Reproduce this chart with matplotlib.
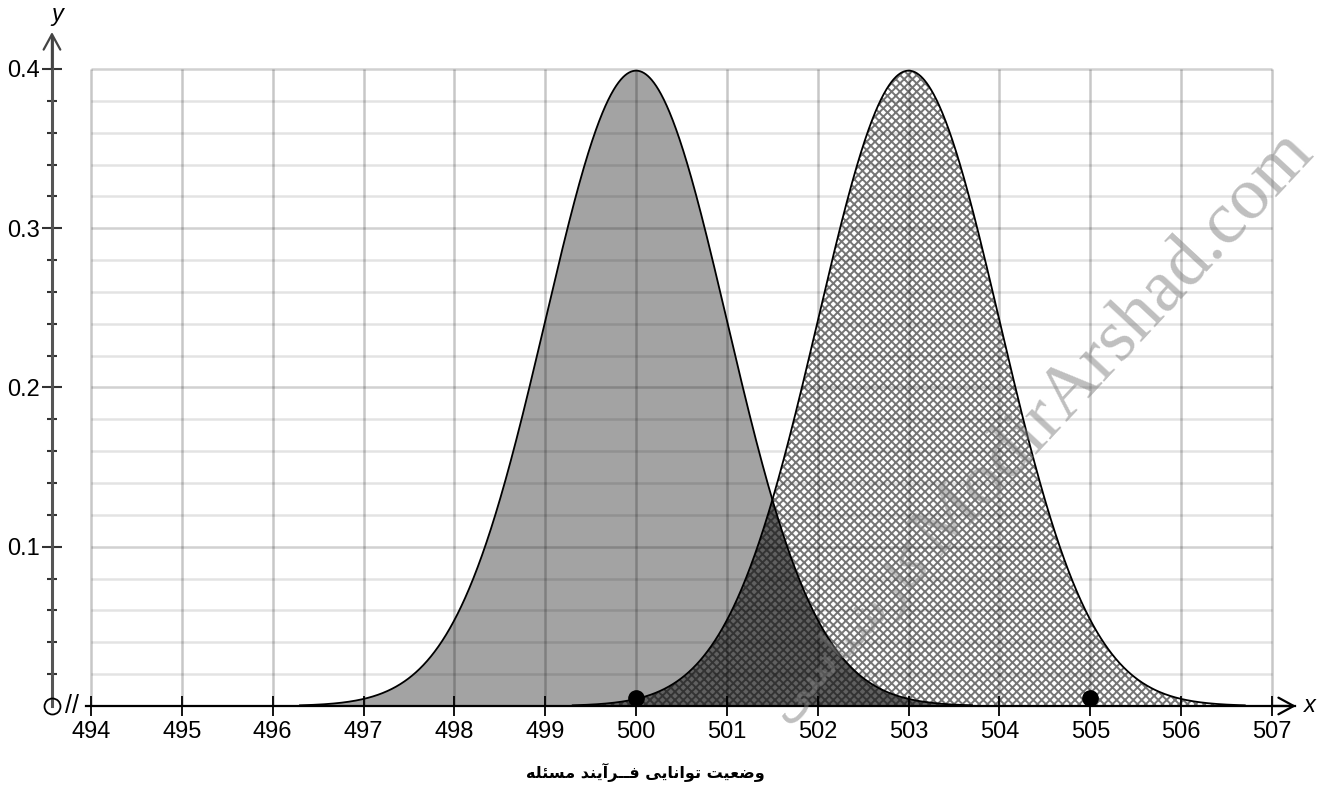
import numpy as np
import matplotlib
matplotlib.use("Agg")
import matplotlib.pyplot as plt

plt.rcParams['font.family'] = ['Liberation Sans', 'DejaVu Sans']
plt.rcParams['hatch.linewidth'] = 1.4

# values
means = [500, 503]          # the two normal curves
sigma = 1.0
curve_ranges = [(496.3, 503.7), (499.3, 506.7)]
point_x = [500, 505]
point_y = [0.005, 0.005]
x_ticks = list(range(494, 508))
y_ticks = [0.1, 0.2, 0.3, 0.4]
y_tick_labels = ['0.1', '0.2', '0.3', '0.4']
y_minor = [0.02, 0.04, 0.06, 0.08, 0.12, 0.14, 0.16, 0.18, 0.22, 0.24, 0.26, 0.28,
           0.32, 0.34, 0.36, 0.38]
x_label = 'وضعیت توانایی فــرآیند مسئله'
watermark_fa = 'کارشناسی'
watermark_en = 'ModirArshad.com'

# arabic presentation forms: isolated, final, initial, medial
forms = {
    '\u0627': ('\uFE8D', '\uFE8E'),
    '\u0622': ('\uFE81', '\uFE82'),
    '\u062F': ('\uFEA9', '\uFEAA'),
    '\u0631': ('\uFEAD', '\uFEAE'),
    '\u0648': ('\uFEED', '\uFEEE'),
    '\u062A': ('\uFE95', '\uFE96', '\uFE97', '\uFE98'),
    '\u0633': ('\uFEB1', '\uFEB2', '\uFEB3', '\uFEB4'),
    '\u0634': ('\uFEB5', '\uFEB6', '\uFEB7', '\uFEB8'),
    '\u0636': ('\uFEBD', '\uFEBE', '\uFEBF', '\uFEC0'),
    '\u0639': ('\uFEC9', '\uFECA', '\uFECB', '\uFECC'),
    '\u0641': ('\uFED1', '\uFED2', '\uFED3', '\uFED4'),
    '\u0644': ('\uFEDD', '\uFEDE', '\uFEDF', '\uFEE0'),
    '\u0645': ('\uFEE1', '\uFEE2', '\uFEE3', '\uFEE4'),
    '\u0646': ('\uFEE5', '\uFEE6', '\uFEE7', '\uFEE8'),
    '\u0647': ('\uFEE9', '\uFEEA', '\uFEEB', '\uFEEC'),
    '\u0626': ('\uFE89', '\uFE8A', '\uFE8B', '\uFE8C'),
    '\u06CC': ('\uFEEF', '\uFEF0', '\uFEF3', '\uFEF4'),
    '\u06A9': ('\uFB8E', '\uFB8F', '\uFB90', '\uFB91'),
    '\u0640': ('\u0640', '\u0640', '\u0640', '\u0640'),
}


def shape(text):
    out = []
    for i, ch in enumerate(text):
        f = forms.get(ch)
        if f is None:
            out.append(ch)
            continue
        prev = text[i - 1] if i > 0 else ''
        nxt = text[i + 1] if i + 1 < len(text) else ''
        jp = prev in forms and len(forms[prev]) == 4
        jn = len(f) == 4 and nxt in forms
        idx = 3 if (jp and jn) else 1 if jp else 2 if jn else 0
        out.append(f[idx])
    return ''.join(reversed(out))


def pdf(x, m):
    return np.exp(-0.5 * ((x - m) / sigma) ** 2) / (sigma * np.sqrt(2 * np.pi))


fig = plt.figure(figsize=(13.26, 7.88), dpi=100)
ax = fig.add_axes([0, 0, 1, 1])
ax.set_xlim(492.998, 507.594)
ax.set_ylim(-0.0515, 0.4433)
ax.patch.set_visible(False)

x = np.linspace(curve_ranges[0][0], curve_ranges[1][1], 2000)
in1 = (x >= curve_ranges[0][0]) & (x <= curve_ranges[0][1])
in2 = (x >= curve_ranges[1][0]) & (x <= curve_ranges[1][1])
f1 = np.where(in1, pdf(x, means[0]), 0.0)
f2 = np.where(in2, pdf(x, means[1]), 0.0)

ax.fill_between(x, 0, f1, where=in1, facecolor='#a3a3a3', linewidth=0, zorder=1)
ax.fill_between(x, f1, f2, where=in2 & (f2 >= f1), facecolor='white',
                edgecolor='#757575', hatch='xxxx', linewidth=0, zorder=1, interpolate=True)
ax.fill_between(x, 0, np.minimum(f1, f2), where=in1 & in2, facecolor='#606060',
                edgecolor='#333333', hatch='xxxx', linewidth=0, zorder=1.5)
ax.plot(x[in1], f1[in1], color='black', lw=1.3, zorder=4)
ax.plot(x[in2], f2[in2], color='black', lw=1.3, zorder=4)

# grid box
ax.vlines(x_ticks, 0, 0.4, colors='black', alpha=0.22, lw=1.8, zorder=3)
ax.hlines(y_minor, x_ticks[0], x_ticks[-1], colors='black', alpha=0.11, lw=1.8, zorder=3)
ax.hlines(y_ticks, x_ticks[0], x_ticks[-1], colors='black', alpha=0.18, lw=1.8, zorder=3)

ax.plot(point_x, point_y, 'o', color='black', ms=11, zorder=6)

# axes
for s in ['top', 'right']:
    ax.spines[s].set_visible(False)
ax.spines['left'].set_position(('data', 493.57))
ax.spines['left'].set_bounds(0, 0.42)
ax.spines['left'].set_color('#555555')
ax.spines['left'].set_linewidth(2.2)
ax.spines['bottom'].set_position(('data', 0))
ax.spines['bottom'].set_bounds(493.95, 507.25)
ax.spines['bottom'].set_color('black')
ax.spines['bottom'].set_linewidth(1.6)
ax.spines['left'].set_zorder(5)
ax.spines['bottom'].set_zorder(5)

ax.set_xticks(x_ticks)
ax.set_xticklabels([str(t) for t in x_ticks])
ax.set_yticks(y_ticks)
ax.set_yticklabels(y_tick_labels)
ax.set_yticks(y_minor, minor=True)
ax.tick_params(axis='x', direction='inout', length=14, width=1.3, pad=4,
               labelsize=17, colors='black')
ax.tick_params(axis='y', which='major', direction='inout', length=14, width=1.5,
               pad=2, labelsize=17, color='#333333')
ax.tick_params(axis='y', which='minor', direction='inout', length=7, width=1.5,
               color='#333333')

arrow = dict(arrowstyle='->,head_length=1.1,head_width=0.6', lw=1.6,
             shrinkA=0, shrinkB=0)
ax.annotate('', xy=(493.57, 0.4232), xytext=(493.57, 0.40),
            arrowprops=dict(arrow, color='#444444'), zorder=6)
ax.annotate('', xy=(507.264, 0), xytext=(507.0, 0),
            arrowprops=dict(arrow, color='black'), zorder=6)
ax.text(493.63, 0.434, 'y', fontsize=17, style='italic', ha='center', va='center')
ax.text(507.42, 0.0, 'x', fontsize=17, style='italic', ha='center', va='center')

# origin and axis break
ax.plot([493.57], [0], 'o', mfc='none', mec='black', mew=1.3, ms=11.5, zorder=7)
ax.text(493.79, 0.0, '//', fontsize=18, ha='center', va='center', zorder=7)

ax.text(500.1, -0.042, shape(x_label), fontsize=11.5, fontweight='bold',
        family=['DejaVu Sans'], ha='center', va='center')

# watermark
ax.text(503.33, 0.0936, watermark_en, fontsize=54, family=['Liberation Serif'],
        color='#808080', alpha=0.5, rotation=47, rotation_mode='anchor',
        ha='left', va='baseline', zorder=8)
ax.text(503.28, 0.0900, shape(watermark_fa), fontsize=36, family=['DejaVu Sans'],
        color='#808080', alpha=0.5, rotation=47, rotation_mode='anchor',
        ha='right', va='baseline', zorder=8)

fig.savefig('out.png', dpi=100)
